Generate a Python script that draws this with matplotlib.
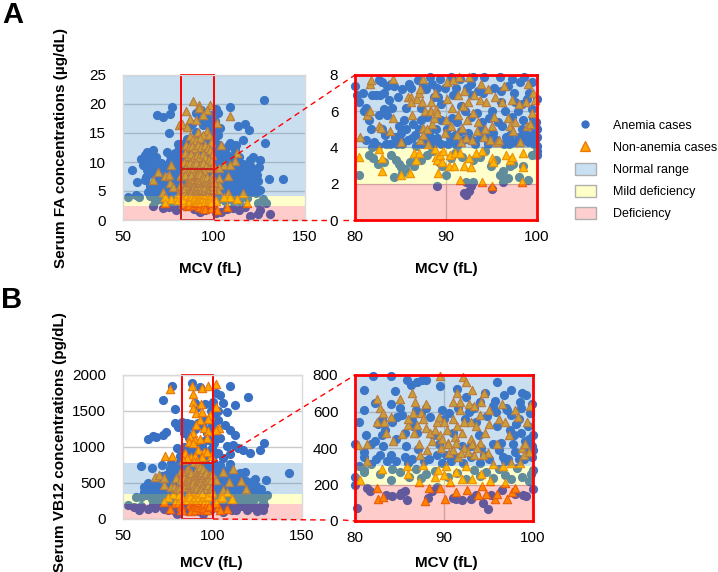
#!/usr/bin/env python3

"""Serum FA and VB12 against MCV, full range and zoomed panels."""

import numpy as np
import matplotlib
matplotlib.use("Agg")
import matplotlib.pyplot as plt
from matplotlib.lines import Line2D
from matplotlib.patches import Patch, Rectangle

plt.rcParams["font.family"] = ["Liberation Sans", "DejaVu Sans"]

# (MCV, serum FA)
fa_anemia = [
    (55, 8.7), (57.7, 6.6), (62, 6.9), (63, 8.6), (60, 10.6), (62, 11.2), (63, 11.8), (66.5, 12), (64, 10.6),
    (64.7, 9.8), (68, 10.9), (68.7, 18.1), (72, 17.7), (76, 18.3), (77, 19.5), (75, 15), (74, 11.8), (75.7, 11.2),
    (78.4, 11.5), (81, 10.9), (127.5, 20.7), (109, 19.5), (101, 19.2), (102, 18.4), (113, 16.2), (117, 16.5),
    (119, 15.5), (128, 13.3), (116, 13.8), (109, 13.2), (112, 12.9), (121.5, 10.9), (125, 10.3), (130, 7), (138, 7),
    (123, 8.6), (120, 10.3), (120.5, 9.2), (124.5, 9.2), (61, 9.5), (66, 8.2), (69, 9.6), (71, 9.9), (62.5, 7.4),
    (65, 5.8), (68, 6.5), (70, 5.2), (72, 6.2), (74, 6.6), (77, 8.7), (79, 9.9), (80, 7.4), (78, 5.8), (76, 4.8),
    (73, 5.0), (70.5, 4.6), (67, 4.6), (65, 4.5), (102, 14.6), (103, 13), (104, 11.2), (106, 12.1), (108, 11),
    (110, 10.4), (112, 11.2), (114, 10.8), (116, 9.6), (118, 8.9), (115, 8.2), (113, 7.1), (111, 8.3), (109, 7.2),
    (106, 8.2), (104, 6.7), (102, 5.4), (105, 5.1), (107, 6.1), (110, 5.6), (112, 4.9), (115, 5.7), (118, 6.4),
    (120, 7.2), (122, 6.1), (123.5, 7.7), (125, 5.2), (121, 4.8), (117, 4.6), (108, 4.5), (103, 9.4), (101, 10.4),
    (101, 12.2), (101, 15.1), (100.5, 17.1), (84, 9.8), (86, 12.4), (88, 11.1), (90, 15.2), (92, 17.2), (94, 16.4),
    (96, 13.2), (98, 18.1), (99, 14.1), (90, 10.1), (93, 12.1), (97, 9.6), (87, 9.2), (83, 13.1),
    (53, 3.9), (57, 4.3), (59, 3.9), (65, 4.2), (67.4, 3.2), (70, 3.6), (73, 3.1), (76, 3.9), (78, 3.2),
    (103, 3.6), (106, 3.2), (110, 3.5), (114, 3.3), (118, 3.8), (124, 3), (127, 3.6), (128.4, 3),
    (66.5, 2.4), (72, 2), (75, 2.3), (79, 1.7), (120, 0.7), (124, 1.1), (125, 1.7), (131, 1.1), (110.5, 2), (114, 1.7),
    (104, 1.4), (101, 1.2), (107, 1.9), (117, 2.2),
    # blob around the window
    (63, 10), (65, 11), (67, 9), (67.5, 7.5), (69, 7), (70, 8.4), (71.5, 7.3), (73, 8.8), (74.5, 9.6), (76, 10.2),
    (77.5, 7.2), (79, 8.3), (78.5, 6.6), (75, 5.6), (71, 5.8), (68, 5.2), (66, 5), (64, 4.8), (81, 9), (81, 6), (79.5, 5),
    (81, 12.4), (80, 13.1), (79.5, 11), (101.5, 8), (102, 6.5), (103, 5), (104, 8.1), (105, 10.3), (105.5, 7.2), (106.5, 9),
    (107.5, 12.8), (108, 8.5), (108.5, 6.3), (109, 5), (110, 9), (110.5, 7), (111, 6), (112, 9.5), (113, 5.8), (113.5, 8.8),
    (114, 6.7), (114.5, 4.8), (115.5, 7.2), (116, 6.1), (116.5, 5.1), (117, 8), (117.5, 7.1), (118.5, 5.5), (119, 7.9),
    (119.5, 6.2), (120.5, 5.3), (121, 6.6), (121.5, 8), (122.5, 5.3), (123, 4.7), (124, 6.7), (102, 9), (102.5, 11.4),
    (103.5, 15.8), (100.5, 13.5), (100.5, 11.2), (100.5, 9.2), (100.5, 14.4), (104.5, 9.5), (107, 10.2), (111.5, 12),
    (85, 14), (86, 16.2), (88, 16.5), (90, 18.5), (93, 19), (95, 18), (97, 17), (99, 16.2), (98, 15), (84, 12), (91, 14),
    (94, 13.5), (96, 11), (99, 11.8), (85, 10.8), (99, 8.9), (95, 8.8), (88, 8.4), (84, 8.5),
    # inside the zoomed window
    (89, 1.9), (92, 1.5), (92.2, 1.4), (92.5, 1.6), (92.8, 1.9), (93, 2.1), (95, 1.7), (96.3, 2.1), (80.4, 2.5),
    (81.5, 3.6), (82, 3.4), (82.5, 3.1), (83.2, 3.2), (84, 3.6), (84.5, 3.3), (84.8, 3.1), (85, 2.9), (85.2, 2.6),
    (85.5, 2.8), (84.3, 2.4), (86, 3.2), (86.5, 3.0), (86.8, 3.5), (87.3, 3.3), (87.9, 3.6), (88.5, 3.8), (89.2, 3.2),
    (89.6, 3.0), (90, 2.5), (90.5, 3.4), (91, 3.7), (91.8, 3.5), (93, 3.3), (93.7, 3.5), (94.3, 3.8), (94.9, 3.0),
    (95.5, 3.3), (95.9, 2.5), (96.3, 2.7), (96.8, 2.3), (97, 3.0), (97.4, 3.1), (98, 2.4), (98.5, 3.0), (99, 2.2),
    (99.4, 3.6), (100, 3.6), (100, 3.8), (92.2, 2.1),
    (80.2, 6.9), (80.4, 6.5), (81.2, 6.2), (81.5, 5.5), (81.8, 5.0), (81.2, 4.4), (81.9, 4.0), (82.1, 4.3), (82.3, 6.9),
    (82.8, 6.9), (83, 7.6), (83.2, 7.0), (83.5, 7.4), (83.5, 5.8), (83.3, 4.7), (83.4, 4.2), (83.9, 4.2), (84.0, 7.5),
    (84.3, 7.4), (84.1, 6.2), (84.4, 4.6), (84.6, 4.2), (85, 4.8), (85.4, 5.5), (85.6, 6.2), (85.9, 7.5), (86.1, 7.3),
    (86.4, 5.3), (86.3, 4.5), (86.7, 4.1), (87, 5.0), (87.2, 5.5), (87.5, 7.4), (87.8, 7.2), (88, 4.4), (88.1, 4.8),
    (88.5, 7.5), (89, 7.3), (89, 4.5), (89.3, 7.8), (89.5, 6.4), (89.5, 4.2), (89.9, 7.3), (90.1, 5.0), (90.2, 4.2),
    (90.5, 7.7), (90.8, 6.9), (91, 4.7), (91.2, 4.1), (91.5, 7.8), (91.6, 6.3), (91.9, 4.4), (92.3, 7.3), (92.4, 4.8),
    (92.7, 5.7), (93, 7.9), (93.2, 4.2), (93.5, 7.1), (93.7, 4.6), (94, 5.4), (94.2, 7.9), (94.6, 4.2), (95, 6.0),
    (95.3, 7.3), (95.5, 4.4), (95.9, 7.9), (96, 6.5), (96.2, 5.2), (96.4, 4.2), (96.8, 7.4), (97, 4.7), (97.2, 5.7),
    (97.5, 7.0), (97.7, 4.3), (97.9, 6.0), (98.1, 7.6), (98.3, 5.0), (98.5, 5.5), (98.6, 7.9), (98.9, 6.7), (99, 4.3),
    (99.1, 7.0), (99.3, 5.2), (99.5, 6.1), (99.7, 4.2), (99.7, 4.8), (99.8, 4.4), (100, 4.6), (100, 5.0), (100, 6.7),
    (100, 4.1), (99.4, 4.6), (99.9, 5.1), (82.5, 4.1), (85.2, 4.2), (87.4, 4.2), (88.6, 4.2), (90.9, 4.3), (92.9, 4.4),
    (94.9, 4.8), (96.9, 4.2), (98.4, 4.4),
    (80.9, 7.0), (81.9, 6.9), (82.6, 7.7), (83.7, 6.6), (82.6, 5.8), (83, 5.0), (84.8, 5.2), (85.2, 7.2), (85.6, 5.0),
    (84.9, 4.4), (85.8, 4.4), (86.6, 4.7), (87.2, 6.2), (87.9, 5.7), (88.4, 4.5), (88.9, 5.0), (89.4, 5.5), (89.1, 6.8),
    (90.4, 4.6), (90.7, 5.6), (91.2, 5.4), (91.1, 7.3), (91.7, 4.9), (92.1, 6.0), (92.6, 4.4), (92.9, 6.9), (93.4, 5.9),
    (93.8, 5.0), (94.1, 7.0), (94.4, 4.5), (94.7, 5.6), (95.2, 4.8), (95.7, 5.4), (96, 7.1), (96.6, 4.6), (96.5, 6.0),
    (97.3, 4.3), (97.6, 6.5), (98, 4.6), (98.3, 6.4), (98.7, 4.8), (99.2, 4.6), (99.6, 5.6), (99.9, 5.4), (99.5, 7.6),
    (88.2, 7.9), (90.6, 7.9), (92.8, 7.5), (97.3, 7.8), (83.2, 6.1), (84.7, 6.8), (86.9, 7.7), (88.7, 6.8),
]

fa_non_anemia = [
    (66.5, 6.9), (69, 8.3), (73, 7.5), (75, 7.8), (76.6, 9.4), (75.7, 6.3), (77.5, 5.7), (72, 4.9), (73, 4), (73, 3),
    (76.6, 3.7), (79.4, 4), (81, 16.4), (82.5, 16.5), (101.7, 16.7), (104, 12.9), (109, 18), (112.7, 11.5), (111.4, 10.2),
    (105.6, 9.5), (108.7, 9.5), (103, 8.9), (103, 7.2), (107.8, 7.5), (103, 6), (107.8, 4.6), (105.6, 4), (108.7, 4),
    (112.4, 3.7), (116, 4.6), (118, 2.9), (107, 2.2), (101.4, 1.7), (101, 3.2), (102, 5.2),
    (88.2, 20.5), (84.5, 18.8), (91.6, 19.8), (92, 19.3), (97.7, 19.8), (96, 19), (94, 18.1), (86.7, 17.4), (90.3, 17.2),
    (85, 16.1), (91.3, 15.2), (95.9, 15.4), (94, 14.7), (87, 14.5), (88.5, 14), (90, 13.8), (92.5, 14.1), (97, 14.6),
    (98.5, 13.5), (84.8, 13), (86.2, 12.5), (88, 12.8), (89.5, 12.4), (91, 12.9), (93, 12.6), (95, 13), (96.5, 12.4),
    (98, 12), (99, 11.2), (84, 11.5), (85.5, 11), (87.2, 11.4), (89, 10.9), (90.5, 11.2), (92, 10.8), (93.8, 11.3),
    (95.3, 10.9), (97, 10.5), (98.5, 10.1), (83.5, 10), (85, 9.6), (86.8, 9.9), (88.5, 9.5), (90.2, 9.8), (92.3, 9.4),
    (94, 9.8), (95.8, 9.3), (97.5, 9), (99.2, 9.3), (84.2, 8.8), (86, 8.5), (88, 8.7), (90, 8.4), (92, 8.8), (94.5, 8.4),
    # inside the zoomed window
    (80.4, 3.5), (80.5, 4.6), (81.3, 5.8), (81.6, 6.0), (81.7, 7.5), (81.8, 7.7), (82.6, 5.2), (82.9, 5.1), (82.6, 3.9),
    (83, 2.7), (83, 3.4), (83.9, 4.9), (84.2, 5.6), (84.2, 7.8), (85, 2.5), (85, 4.3), (85.8, 6.8), (86.2, 6.8),
    (86.2, 6.5), (86.3, 5.8), (86.8, 6.7), (87, 7.0), (87.1, 7.2), (86, 2.6), (86.5, 3.7), (87, 3.7), (86.7, 3.3),
    (87.5, 7.8), (87.4, 6.5), (87.7, 6.0), (87.5, 5.1), (87.9, 5.0), (88.2, 6.0), (88.3, 6.5), (88.5, 5.3), (88.4, 6.0),
    (88.7, 5.6), (88.8, 7.0), (88.9, 6.1), (89, 5.9), (87.1, 4.4), (87.5, 4.7), (88, 4.2), (88.8, 3.9), (88.9, 3.5),
    (89, 3.3), (89.3, 3.6), (89.6, 3.2), (89.7, 3.8), (89.1, 2.6), (89.9, 4.8), (90, 5.5), (90.1, 6.7), (90.1, 7.6),
    (90.3, 3.0), (90.4, 3.6), (90.5, 5.2), (90.7, 6.2), (90.8, 7.7), (90.9, 3.0), (91, 3.7), (91.2, 4.7), (91.3, 5.8),
    (91.3, 6.9), (91.4, 7.9), (91.5, 3.7), (91.5, 2.2), (91.7, 4.3), (91.8, 5.1), (91.9, 6.3), (92, 7.1), (92, 3.0),
    (92.2, 4.5), (92.3, 5.5), (92.4, 6.5), (92.5, 7.9), (92.5, 3.4), (92.8, 2.9), (92.9, 4.4), (93, 5.9), (93.1, 6.9),
    (93.3, 3.7), (93.4, 4.9), (93.5, 5.4), (93.7, 6.6), (93.8, 7.5), (94, 3.8), (94, 2.1), (94.2, 4.6), (94.3, 5.0),
    (94.4, 6.5), (94.6, 7.2), (94.8, 4.4), (95, 3.4), (95, 1.9), (95.1, 5.2), (95.2, 3.2), (95.3, 5.7), (95.4, 6.8),
    (95.6, 4.3), (95.8, 4.4), (96.2, 6.5), (96.4, 7.4), (96.6, 3.6), (96.8, 5.6), (97, 3.3), (97, 5.2), (97.2, 6.6),
    (97.2, 3.5), (97.4, 4.9), (97.6, 5.4), (98, 6.4), (98.1, 4.3), (98.5, 3.7), (98.4, 2.1), (98.5, 2.9), (98.9, 5.2),
    (98.8, 6.5), (99, 7.5), (99.2, 5.3), (99.4, 5.9), (99.6, 7.0), (99.8, 6.6),
]

# (MCV, serum VB12)
vb12_anemia = [
    (77.5, 1852), (72.4, 1653), (79.3, 1523), (88.7, 1893), (93, 1829), (110, 1852), (120, 1690), (104, 1722), (102, 1745),
    (112.6, 1583), (105.7, 1606), (108, 1490), (100.5, 1630), (90, 1615), (79, 1329), (81, 1282), (83, 1352), (107, 1305),
    (110, 1236), (112.6, 1167), (64, 1106), (66.5, 1153), (68.7, 1134), (72.4, 1167), (74.3, 1213), (117, 958), (121, 921),
    (126.6, 958), (128.5, 1060), (111.7, 1028), (114.4, 981), (142.5, 644), (60, 741), (66, 713), (72, 750), (77, 782),
    (118, 657), (124, 555), (130, 542), (124.5, 460), (121.5, 490), (88, 1320), (92, 1340), (96, 1380), (99, 1500),
    (103, 1500), (101, 1250), (104, 1130), (108, 1010), (103, 920), (106, 850), (110, 900), (80, 980), (82, 880),
    (76, 700), (79, 640), (74, 610), (71, 520), (68, 470), (65, 430), (62, 450), (64, 500), (70, 440), (73, 400),
    (76, 470), (78, 530), (80, 420), (81, 720), (101, 760), (103, 690), (105, 620), (108, 680), (110, 760), (112, 560),
    (114, 470), (116, 560), (118, 420), (120, 380), (122, 520), (125, 380), (127, 410), (103, 480), (106, 440), (109, 400),
    (112, 370), (115, 360), (102, 390), (84, 1000), (87, 1130), (94, 1010), (98, 1100),
    (57.5, 310), (60, 300), (63, 330), (66, 280), (69, 320), (72, 260), (75, 300), (78, 320), (81, 280), (102, 300),
    (105, 260), (108, 310), (111, 280), (114, 320), (117, 270), (120, 310), (123, 280), (126, 320), (128, 260), (130.4, 333),
    (53, 194), (56, 162), (59, 125), (60, 180), (64, 134), (68, 150), (72, 175), (75, 130), (78, 160), (79, 110), (103, 150),
    (106, 100), (110, 170), (113, 120), (116, 180), (119, 130), (122, 165), (125, 110), (127, 175), (129, 194),
    # blob around the window
    (62, 380), (64, 350), (66, 400), (67, 340), (69, 390), (71, 340), (72, 600), (72.5, 470), (74, 510), (75, 350), (75.5, 560),
    (77, 640), (77.5, 410), (78, 700), (79, 460), (79.5, 360), (80.5, 540), (81, 610), (81, 350), (67, 210), (70, 230), (73, 140),
    (76, 220), (80, 200), (101, 640), (101, 520), (101, 430), (101.5, 340), (102, 600), (103, 560), (104, 410), (104, 750),
    (105, 350), (105.5, 520), (106.5, 570), (107, 370), (107.5, 480), (108, 600), (109, 540), (109.5, 450), (110.5, 350),
    (111, 490), (111.5, 630), (112.5, 420), (113, 510), (113.5, 380), (115, 430), (115.5, 640), (116.5, 370), (117, 490),
    (118.5, 530), (119.5, 440), (120.5, 350), (121.5, 430), (123, 370), (126, 390), (102, 230), (105, 200), (108, 220), (111, 120),
    (114, 210), (118, 180), (121, 210), (124, 170), (126, 140), (128, 130), (101, 1050), (102, 1130), (103, 1380), (101, 1420),
    (100.5, 1550), (100.5, 1330), (100.5, 880), (85, 1260), (85.5, 1340), (86, 1180), (90, 1250), (94, 1290), (97, 1200), (99, 1280),
    (91, 1540), (96, 1600), (84, 1200), (86, 950), (89, 950), (92, 1060), (95, 1090), (98, 940), (99.5, 990), (92, 870), (96, 830),
    # inside the zoomed window
    (82, 795), (84, 795), (80.4, 300), (80, 240), (80.2, 72), (81.4, 180), (81.7, 165), (83.5, 140), (84.2, 135), (85, 145),
    (85.2, 155), (85.6, 165), (85.8, 115), (88.2, 125), (88.7, 165), (89.2, 185), (91, 125), (91.4, 120), (92, 115), (93, 120),
    (93.6, 140), (94.4, 100), (94.9, 65), (95.3, 145), (96.5, 170), (98, 150), (98.9, 140), (99.2, 135), (100, 175),
    (81, 270), (81.8, 310), (82.8, 260), (84.2, 285), (84, 225), (85, 270), (86.1, 240), (86.8, 285), (87.4, 235),
    (88, 255), (89, 275), (90.5, 240), (91.5, 265), (92.5, 230), (93.4, 280), (94, 245), (94.7, 270), (95.5, 235), (96.2, 285),
    (96.9, 250), (97.5, 230), (98.2, 290), (98.8, 240), (99.6, 220), (100, 280), (99.8, 260),
    (82.2, 645), (83, 470), (84, 640), (84.5, 715), (85.8, 770), (86.3, 745), (87, 760), (88, 770), (89.5, 740), (91.5, 725),
    (92.5, 680), (94.6, 700), (96, 760), (97.5, 720), (98.8, 700), (99.2, 690), (98.5, 650), (99.9, 640),
    (81.2, 470), (81.8, 420), (82.4, 340), (83, 560), (83.4, 500), (83.1, 410), (84, 360), (84.6, 330), (84.7, 570), (85.3, 580),
    (85.6, 480), (85.7, 410), (86, 320), (86.4, 555), (86.5, 520), (87.1, 395), (87.4, 590), (88, 620), (88.3, 340), (88.8, 470),
    (89.4, 420), (89.8, 610), (90.2, 360), (90.6, 590), (91, 480), (91.3, 350), (91.6, 620), (92, 410), (92.4, 560),
    (93, 350), (93.4, 620), (93.9, 470), (94.2, 400), (94.8, 575), (95, 340), (95.5, 630), (96, 520), (96.4, 430), (96.6, 350),
    (97, 620), (97.4, 500), (97.7, 420), (98.1, 530), (98.4, 340), (98.7, 620), (99.1, 440), (99.4, 520), (99.6, 380),
    (99.9, 410), (100, 470), (99.9, 350), (82.8, 360), (87.7, 330), (89.8, 320), (92.1, 320), (94.1, 320), (96.9, 330),
    (82.6, 530), (84.2, 540), (85, 620), (85.6, 350), (86.8, 610), (88.4, 570), (90, 560), (92.8, 600), (93.6, 540), (95.8, 600),
    (97.5, 580), (98.4, 560), (99.7, 590), (83.6, 330), (86.4, 340), (87, 480), (89.2, 360), (90.8, 330), (93, 410), (94.5, 360),
    (95.5, 420), (96.2, 390), (97.2, 340), (97.9, 470), (98.6, 480), (99, 340), (99.6, 450), (99.2, 400), (100, 390), (98, 380),
    (87.5, 770), (92.9, 620), (94, 650), (95.7, 660), (97.1, 610), (96.7, 690), (84.6, 450), (82.2, 440), (81, 380),
]

vb12_non_anemia = [
    (76, 1805), (73.4, 880), (77.5, 880), (102, 1870), (102, 1551), (103.8, 1259), (102, 1236), (68, 588), (70, 611),
    (73, 565), (73, 472), (76.7, 449), (75, 310), (73, 231), (76.5, 139), (104, 287), (102, 542), (111.7, 694), (106, 657),
    (116, 528), (118.6, 417), (109, 509), (106, 403), (108, 380), (105.5, 310), (111, 278), (108, 139), (103, 171),
    (104, 125), (102, 218), (79.5, 570), (78.5, 450), (78, 350), (79, 220),
    (88.7, 1852), (94, 1815), (97.3, 1847), (89, 1731), (89, 1630), (93.7, 1592), (89.3, 1537), (91, 1467), (94, 1481),
    (98.4, 1444), (93, 1375), (91, 1305), (97.5, 1390), (95, 1259), (89.3, 1190), (87.4, 1143), (97.3, 1227), (90, 1100),
    (97, 1130), (87, 1070), (89, 1060), (93, 1110), (84.6, 912), (88, 866), (92, 958), (95.5, 935), (99, 870), (86, 850),
    (90, 880), (94, 860), (97, 930), (83.5, 820), (91.5, 820),
    # inside the zoomed window
    (80.3, 415), (82.5, 670), (82.8, 620), (83.2, 590), (83.5, 480), (83.3, 540), (81.4, 420), (81.4, 330), (80.6, 225),
    (82.5, 540), (83, 285), (82.5, 180), (82.6, 120), (83.2, 130), (84, 570), (84.3, 440), (85.1, 670), (85.3, 475), (86, 525),
    (85.8, 300), (85.9, 260), (86, 560), (86.4, 700), (86.7, 650), (86.5, 590), (86.6, 480), (87, 525), (87.2, 420), (87.3, 360),
    (87.6, 305), (87.2, 215), (87.4, 590), (87.6, 560), (88, 640), (88, 510), (88.1, 390), (88.3, 180), (87.9, 110), (88.4, 480),
    (88.6, 440), (89, 240), (89.2, 545), (89.3, 280), (89.4, 570), (89.5, 470), (89.6, 795), (89.6, 180), (89.7, 400), (90, 540),
    (90, 250), (90.1, 120), (90.2, 300), (90.3, 500), (90.5, 430), (90.6, 370), (90.7, 215), (91, 650), (91, 560), (91.2, 460),
    (91.3, 270), (91.4, 160), (91.5, 700), (91.5, 520), (91.6, 350), (91.8, 650), (91.8, 610), (92, 480), (92, 230), (92.1, 790),
    (92.2, 540), (92.3, 400), (92.5, 760), (92.5, 300), (92.6, 170), (92.8, 640), (93, 450), (93, 540), (93.1, 230), (93.2, 720),
    (93.4, 630), (93.4, 360), (93.6, 520), (93.8, 140), (94, 430), (94, 580), (94.2, 650), (94.2, 260), (94.3, 190), (94.5, 700),
    (94.6, 480), (94.7, 150), (94.9, 370), (95, 610), (95.1, 530), (95.2, 220), (95.5, 310), (95.7, 120), (95.9, 150), (96, 420),
    (96.2, 560), (96.5, 640), (96.6, 300), (96.8, 540), (96.9, 210), (97.1, 120), (97.3, 470), (97.6, 160), (98, 180), (98, 610),
    (98.3, 570), (98.8, 400), (99, 360), (99.1, 420), (99.3, 540), (98.5, 320), (97.5, 320), (99.5, 380), (99.7, 630),
    (89, 500), (89.8, 450), (90.4, 420), (91, 390), (91.4, 430), (91.9, 370), (92.7, 380), (93.2, 420), (93.7, 400), (94.4, 360),
]

panel_letters = ["A", "B"]
legend_labels = ["Anemia cases", "Non-anemia cases", "Normal range", "Mild deficiency", "Deficiency"]

W, H = 718, 572
BLUE = "#3a70c4"
ORANGE = "#ffa500"
TRI_EDGE = "#e8740c"
RED = "#ff0000"
BAND_BLUE = (0.25, 0.55, 0.80, 0.28)
BAND_YEL = (1.0, 1.0, 0.0, 0.20)
BAND_RED = (1.0, 0.0, 0.0, 0.20)

fig = plt.figure(figsize=(W / 100, H / 100), dpi=100)


def px_axes(left, top, right, bottom):
    return fig.add_axes([left / W, 1 - bottom / H, (right - left) / W, (bottom - top) / H])


def draw_panel(ax, anemia, non_anemia, xlim, ylim, bands, xticks, yticks, zoomed):
    an = np.array(anemia)
    na = np.array(non_anemia)
    keep_a = (an[:, 0] >= xlim[0]) & (an[:, 0] <= xlim[1]) & (an[:, 1] >= ylim[0]) & (an[:, 1] <= ylim[1])
    keep_n = (na[:, 0] >= xlim[0]) & (na[:, 0] <= xlim[1]) & (na[:, 1] >= ylim[0]) & (na[:, 1] <= ylim[1])
    ax.scatter(an[keep_a, 0], an[keep_a, 1], s=44, c=BLUE, lw=0, zorder=3, clip_on=False)
    ax.scatter(na[keep_n, 0], na[keep_n, 1], s=36, marker="^", c=ORANGE, edgecolors=TRI_EDGE,
               lw=0.8, zorder=4, clip_on=False)
    # bands sit over the points, that is what gives the teal and purple
    for (lo, hi), col in zip(bands, [BAND_RED, BAND_YEL, BAND_BLUE]):
        ax.axhspan(lo, hi, fc=col, ec="none", zorder=5)
    ax.set_xlim(xlim)
    ax.set_ylim(ylim)
    ax.set_xticks(xticks)
    ax.set_yticks(yticks)
    ax.tick_params(length=0, labelsize=11, pad=12)
    ax.tick_params(axis="x", pad=7)
    ax.grid(axis="y", color="#c9c9c9", lw=1, zorder=1)
    if zoomed:
        ax.grid(axis="x", color="#c9c9c9", lw=1, zorder=1)
    for sp in ax.spines.values():
        sp.set_color(RED if zoomed else "#d9d9d9")
        sp.set_linewidth(2 if zoomed else 1)
        sp.set_zorder(8)


def connect(p0, p1):
    fig.add_artist(Line2D([p0[0] / W, p1[0] / W], [1 - p0[1] / H, 1 - p1[1] / H], color=RED, lw=1,
                          dashes=(4, 3), zorder=5))


ax_a = px_axes(123, 75, 305, 220)
draw_panel(ax_a, fa_anemia, fa_non_anemia, (50, 150), (0, 25),
           [(0, 2.5), (2.5, 4.2), (4.2, 25)], [50, 100, 150], [0, 5, 10, 15, 20, 25], False)
ax_a.add_patch(Rectangle((82, 0), 18, 25, fc="none", ec=RED, lw=1.4, zorder=7, clip_on=False))
ax_a.add_patch(Rectangle((82, 0), 18, 8.8, fc="none", ec="#c8201c", lw=1.4, zorder=7, clip_on=False))

ax_az = px_axes(355, 75, 537, 220)
draw_panel(ax_az, fa_anemia, fa_non_anemia, (80, 100), (0, 8),
           [(0, 2), (2, 4), (4, 8)], [80, 90, 100], [0, 2, 4, 6, 8], True)

ax_b = px_axes(123, 375, 302, 519)
draw_panel(ax_b, vb12_anemia, vb12_non_anemia, (50, 150), (0, 2000),
           [(0, 208), (208, 345), (345, 780)], [50, 100, 150], [0, 500, 1000, 1500, 2000], False)
ax_b.add_patch(Rectangle((83, 0), 17.3, 2000, fc="none", ec=RED, lw=1.4, zorder=7, clip_on=False))
ax_b.add_patch(Rectangle((83, 0), 17.3, 780, fc="none", ec="#e01010", lw=1.4, zorder=7, clip_on=False))

ax_bz = px_axes(355, 375, 533, 521)
draw_panel(ax_bz, vb12_anemia, vb12_non_anemia, (80, 100), (0, 800),
           [(0, 200), (200, 300), (300, 800)], [80, 90, 100], [0, 200, 400, 600, 800], True)

# dashed connectors, the lower ones stop either side of the "0" label
connect((214, 170), (355, 75))
connect((214, 220), (328, 220))
connect((343, 220), (355, 220))
connect((213, 463), (355, 375))
connect((213, 519), (328, 520))
connect((343, 520), (355, 521))

fig.text(2 / W, 1 - 23 / H, panel_letters[0], fontsize=21, fontweight="bold", va="baseline")
fig.text(1 / W, 1 - 308 / H, panel_letters[1], fontsize=21, fontweight="bold", va="baseline")

for x, y in [(210, 269), (446, 269), (211, 563), (446, 563)]:
    fig.text(x / W, 1 - y / H, "MCV (fL)", fontsize=11, fontweight="bold", ha="center", va="center")
fig.text(61 / W, 1 - 148 / H, "Serum FA concentrations (µg/dL)", fontsize=11, fontweight="bold",
         rotation=90, ha="center", va="center")
fig.text(60 / W, 1 - 442 / H, "Serum VB12 concentrations (pg/dL)", fontsize=11, fontweight="bold",
         rotation=90, ha="center", va="center")

handles = [
    Line2D([], [], marker="o", ls="none", ms=6, mfc=BLUE, mec="none"),
    Line2D([], [], marker="^", ls="none", ms=7, mfc=ORANGE, mec=TRI_EDGE, mew=0.9),
    Patch(fc="#c9dff2", ec="#b0b0b0", lw=1),
    Patch(fc="#ffffc8", ec="#b0b0b0", lw=1),
    Patch(fc="#ffcfcf", ec="#b0b0b0", lw=1),
]
fig.legend(handles, legend_labels, loc="upper left", bbox_to_anchor=(575 / W, 1 - 119 / H), frameon=False,
           fontsize=9, labelspacing=0.70, handlelength=1.67, handleheight=1.1, handletextpad=1.36, borderpad=0,
           borderaxespad=0)

fig.savefig("out.png", dpi=100)
